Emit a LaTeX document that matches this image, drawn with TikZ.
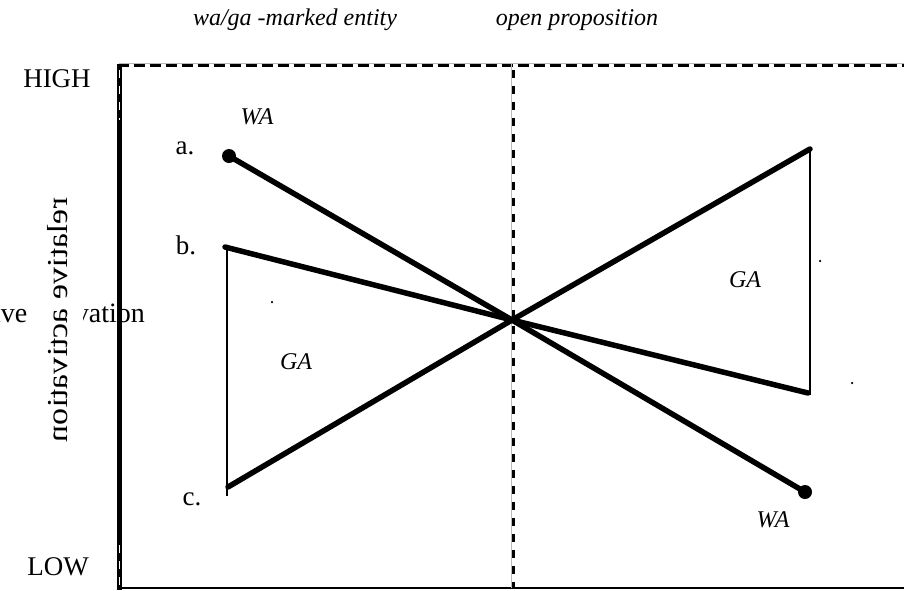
\documentclass[tikz,border=0pt]{standalone}
\usepackage{fontspec}
\setmainfont{Liberation Serif}
\usepackage{graphicx}
\begin{document}
\begin{tikzpicture}[x=1pt,y=-1pt,
  heavy/.style={line width=5.5pt, line cap=round},
  light/.style={line width=2.5pt},
  lbl/.style={font=\fontsize{27}{30}\selectfont, inner sep=0pt},
  ilbl/.style={font=\fontsize{24}{28}\selectfont\itshape, inner sep=0pt},
  blob/.style={circle, fill=black, inner sep=0pt, minimum size=14pt},
  speck/.style={circle, fill=black, inner sep=0pt, minimum size=2.5pt}]
\useasboundingbox (0,0) rectangle (904,590);
\fill[white] (0,0) rectangle (904,590);

% axis label (horizontal copy, partly hidden) and mirrored rotated copy
\node[font=\fontsize{28}{30}\selectfont, inner sep=0pt, anchor=base east] (hrel) at (145,322) {relative activation};
\fill[white] (33,292) rectangle (83,330);
\node[font=\fontsize{34}{36}\selectfont, inner sep=0pt, rotate=90] (vrel) at (58,320) {\scalebox{-1}[0.85]{relative activation}};

% frame
\draw[gray!55, line width=1pt] (119,63) -- (904,63);
\draw[line width=3pt, dash pattern=on 11pt off 5pt] (117.5,65.5) -- (904,65.5);
\draw[line width=4.5pt] (119.5,64) -- (119.5,590);
\draw[white, line width=1.5pt, dash pattern=on 8pt off 8pt] (119.5,70) -- (119.5,120);
\draw[white, line width=1.5pt, dash pattern=on 8pt off 8pt] (119.5,545) -- (119.5,586);
\draw[line width=2pt] (119,588) -- (904,588);
% middle divider
\draw[gray!55, line width=1pt] (511.5,64) -- (511.5,588);
\draw[line width=3pt, dash pattern=on 8pt off 8pt] (513.5,70) -- (513.5,588);

% points
\coordinate (ctr) at (512,320);
\node[blob] (pa) at (229,156) {};
\coordinate (pb) at (225,247);
\coordinate (pc) at (228,487);
\coordinate (lt) at (227,247);
\coordinate (lb) at (227,496);
\coordinate (r1) at (810,149);
\coordinate (r2) at (808,393);
\node[blob] (r3) at (805,492) {};
\coordinate (rt) at (810,149);
\coordinate (rb) at (810,395);

% thin verticals
\draw[light] (lt) -- (lb);
\draw[light] (rt) -- (rb);

% heavy lines
\draw[heavy] (pa.center) -- (ctr);
\draw[heavy] (pb) -- (ctr);
\draw[heavy] (pc) -- (ctr);
\draw[heavy] (ctr) -- (r1);
\draw[heavy] (ctr) -- (r2);
\draw[heavy] (ctr) -- (r3.center);

% specks
\node[speck] (s1) at (272,302) {};
\node[speck] (s2) at (820,261) {};
\node[speck] (s3) at (852,383) {};

% labels
\node[ilbl, anchor=base] (t1) at (295,25) {wa/ga -marked entity};
\node[ilbl, anchor=base] (t2) at (577,25) {open proposition};
\node[lbl, anchor=base] (high) at (57,87) {HIGH};
\node[lbl, anchor=base] (low) at (58,575) {LOW};
\node[lbl, anchor=base] (la) at (185,154) {a.};
\node[lbl, anchor=base] (lbb) at (186,254) {b.};
\node[lbl, anchor=base] (lc) at (192,505) {c.};
\node[ilbl, anchor=base] (wa1) at (257,124) {WA};
\node[ilbl, anchor=base] (wa2) at (773,527) {WA};
\node[ilbl, anchor=base] (ga1) at (296,369) {GA};
\node[ilbl, anchor=base] (ga2) at (745,287) {GA};
\end{tikzpicture}
\end{document}
